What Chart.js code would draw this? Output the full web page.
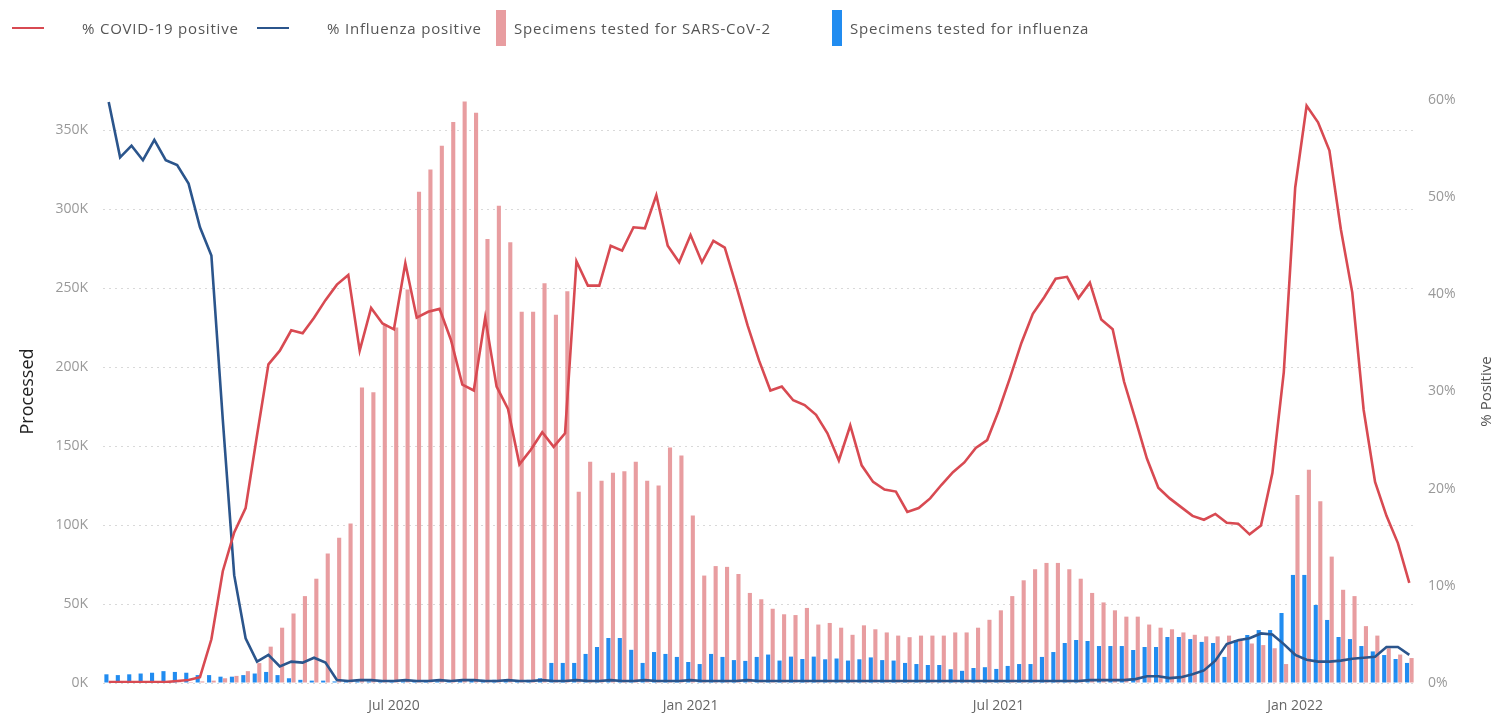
<!DOCTYPE html>
<html>
<head>
<meta charset="utf-8">
<script src="https://cdn.jsdelivr.net/npm/chart.js@4.4.1/dist/chart.umd.min.js"></script>
<style>
  body { margin:0; background:#fff; font-family:"Open Sans", "DejaVu Sans", sans-serif; }
  #wrap { position:relative; width:1500px; height:713px; }
  #legend { position:absolute; left:0; top:0; width:1500px; height:55px; }
  .lg-item { position:absolute; top:0; height:55px; display:flex; align-items:center; font-size:15px; letter-spacing:0.8px; color:#555; white-space:nowrap; }
  .lg-line { display:inline-block; width:32px; height:2px; margin-right:38px; }
  .lg-box { display:inline-block; width:10px; height:36px; margin-right:8px; }
  canvas { position:absolute; left:0; top:0; }
</style>
</head>
<body>
<div id="wrap">
  <canvas id="grafico" width="1500" height="713"></canvas>
  <div id="legend"></div>
</div>
<script>
// Dados (semanas a partir de jan/2020)
const covidPct = [
  0.1, 0.1, 0.1, 0.1, 0.1, 0.1, 0.2, 0.3, 0.6, 4.5,
  11.5, 15.5, 18.0, 25.5, 32.8, 34.2, 36.3, 36.0, 37.6, 39.4,
  41.0, 42.0, 34.2, 38.6, 37.0, 36.4, 43.2, 37.6, 38.2, 38.5,
  35.3, 30.7, 30.1, 37.6, 30.5, 28.2, 22.5, 24.0, 25.8, 24.3,
  25.7, 43.4, 40.9, 40.9, 45.0, 44.5, 46.9, 46.8, 50.2, 45.0,
  43.3, 46.1, 43.3, 45.5, 44.8, 40.9, 36.8, 33.2, 30.1, 30.5,
  29.1, 28.6, 27.6, 25.7, 22.9, 26.5, 22.4, 20.7, 19.9, 19.7,
  17.6, 18.0, 19.0, 20.4, 21.7, 22.7, 24.2, 25.0, 28.0, 31.4,
  35.0, 38.0, 39.7, 41.6, 41.8, 39.6, 41.2, 37.4, 36.4, 31.0,
  27.1, 23.1, 20.1, 19.0, 18.1, 17.2, 16.8, 17.4, 16.5, 16.4,
  15.3, 16.2, 21.6, 32.0, 51.0, 59.4, 57.7, 54.8, 46.7, 40.2,
  28.1, 20.7, 17.2, 14.4, 10.3
];
const fluPct = [
  59.8, 54.1, 55.3, 53.8, 55.9, 53.8, 53.3, 51.4, 46.9, 44.0,
  27.1, 11.1, 4.6, 2.2, 2.9, 1.7, 2.2, 2.1, 2.6, 2.1,
  0.3, 0.2, 0.3, 0.3, 0.2, 0.2, 0.3, 0.2, 0.2, 0.3,
  0.2, 0.3, 0.3, 0.2, 0.2, 0.3, 0.2, 0.2, 0.3, 0.2,
  0.2, 0.3, 0.2, 0.2, 0.3, 0.2, 0.2, 0.3, 0.2, 0.2,
  0.2, 0.3, 0.2, 0.2, 0.2, 0.2, 0.3, 0.2, 0.2, 0.2,
  0.2, 0.2, 0.2, 0.2, 0.2, 0.2, 0.2, 0.2, 0.2, 0.2,
  0.2, 0.2, 0.2, 0.2, 0.2, 0.2, 0.2, 0.2, 0.2, 0.2,
  0.2, 0.2, 0.2, 0.2, 0.2, 0.2, 0.3, 0.3, 0.3, 0.3,
  0.4, 0.7, 0.7, 0.5, 0.6, 0.9, 1.3, 2.3, 4.0, 4.4,
  4.6, 5.1, 5.0, 4.0, 2.9, 2.4, 2.2, 2.2, 2.3, 2.5,
  2.6, 2.7, 3.7, 3.7, 2.9
];
const sarsTested = [
  500, 500, 500, 500, 500, 500, 500, 600, 1000, 1500,
  3000, 4500, 7500, 12600, 23000, 35000, 44000, 55000, 66000, 82000,
  92000, 101000, 187000, 184000, 227000, 225000, 249000, 311000, 325000, 340000,
  355000, 368000, 361000, 281000, 302000, 279000, 235000, 235000, 253000, 233000,
  248000, 121000, 140000, 128000, 133000, 134000, 140000, 128000, 125000, 149000,
  144000, 106000, 68000, 74000, 73500, 69000, 57000, 53000, 47000, 43500,
  43000, 47500, 37000, 38000, 35000, 30500, 36500, 34000, 32000, 30000,
  29000, 30000, 30000, 30000, 32000, 32000, 35000, 40000, 46000, 55000,
  65000, 72000, 76000, 76000, 72000, 66000, 57000, 51000, 46000, 42000,
  42000, 37000, 35000, 34000, 32000, 30500, 29500, 29500, 30000, 28000,
  25000, 24000, 22000, 12000, 119000, 135000, 115000, 80000, 59000, 55000,
  36000, 30000, 22000, 18000, 15800
];
const fluTested = [
  5500, 5000, 5500, 6000, 6500, 7500, 7000, 6500, 5000, 5000,
  4000, 4000, 5000, 6000, 7000, 5000, 3000, 2000, 1500, 1500,
  1000, 1000, 1000, 1000, 1000, 1000, 1000, 1000, 1000, 1000,
  1000, 1500, 1500, 2000, 2000, 1500, 1500, 2000, 3000, 12700,
  12700, 12700, 18400, 22800, 28500, 28500, 21000, 12700, 19600, 18400,
  16500, 13300, 12000, 18400, 16500, 14500, 14000, 16500, 18000, 14200,
  16700, 15200, 16700, 15000, 15500, 14200, 15000, 16200, 14500, 14200,
  12700, 12000, 11400, 11400, 8700, 7700, 9500, 10000, 8900, 10800,
  12000, 12000, 16500, 19600, 25300, 27200, 26600, 23400, 23400, 23400,
  20900, 22800, 22800, 29100, 29100, 27800, 26000, 25300, 16500, 27200,
  30400, 33500, 33500, 44300, 68400, 68400, 49400, 39900, 29100, 27800,
  23400, 20000, 17700, 15200, 12700
];

const tickIdx = [25, 51, 78, 104];
const tickText = ['Jul 2020', 'Jan 2021', 'Jul 2021', 'Jan 2022'];
const ticksEsq = [0, 50000, 100000, 150000, 200000, 250000, 300000, 350000];
const ticksDir = [0, 10, 20, 30, 40, 50, 60];

// semanas (fim de semana, sábado)
const semanas = covidPct.map((_, i) => {
  const d = new Date(Date.UTC(2020, 0, 4 + 7 * i));
  return d.toISOString().slice(0, 10);
});

const corCovid = 'rgb(216,74,82)';
const corFlu = 'rgb(43,85,140)';
const corSars = 'rgba(231,152,155,0.95)';
const corFluBar = 'rgb(33,140,240)';

const fonte = '"Open Sans", "DejaVu Sans", sans-serif';

// titulo do eixo direito (lido de baixo para cima)
const tituloDireito = {
  id: 'tituloDireito',
  afterDraw(chart) {
    const {ctx, chartArea} = chart;
    ctx.save();
    ctx.translate(1487, (chartArea.top + chartArea.bottom) / 2);
    ctx.rotate(-Math.PI / 2);
    ctx.font = '15px ' + fonte;
    ctx.fillStyle = '#555';
    ctx.textAlign = 'center';
    ctx.textBaseline = 'middle';
    ctx.fillText('% Positive', 0, 0);
    ctx.restore();
  }
};

const ctx = document.getElementById('grafico').getContext('2d');
const grafico = new Chart(ctx, {
  type: 'bar',
  data: {
    labels: semanas,
    datasets: [
      { type:'line', label:'% COVID-19 positive', data:covidPct, yAxisID:'y1', borderColor:corCovid, backgroundColor:corCovid, borderWidth:2.6, pointRadius:0, tension:0, order:0 },
      { type:'line', label:'% Influenza positive', data:fluPct, yAxisID:'y1', borderColor:corFlu, backgroundColor:corFlu, borderWidth:2.6, pointRadius:0, tension:0, order:0 },
      { type:'bar', label:'Specimens tested for SARS-CoV-2', data:sarsTested, yAxisID:'y', backgroundColor:corSars, order:2, categoryPercentage:0.8, barPercentage:0.9 },
      { type:'bar', label:'Specimens tested for influenza', data:fluTested, yAxisID:'y', backgroundColor:corFluBar, order:1, categoryPercentage:0.8, barPercentage:0.9 }
    ]
  },
  options: {
    responsive:false,
    animation:false,
    devicePixelRatio:1,
    layout:{ padding:{ top:100, left:0, right:0, bottom:0 } },
    plugins:{ legend:{ display:false }, tooltip:{ enabled:false } },
    scales:{
      x:{
        offset:true,
        grid:{ display:false },
        border:{ display:false },
        ticks:{
          autoSkip:false, maxRotation:0, minRotation:0, padding:7,
          color:'#666', font:{ family:fonte, size:14 },
          callback:(v, i) => { const k = tickIdx.indexOf(i); return k >= 0 ? tickText[k] : ''; }
        },
        afterFit:(s) => { s.height = 30; }
      },
      y:{
        position:'left', min:0, max:369000,
        grid:{ color:'#d9d9d9', drawTicks:false },
        border:{ display:false, dash:[2,4] },
        afterBuildTicks:(s) => { s.ticks = ticksEsq.map(v => ({ value:v })); },
        ticks:{ padding:15, color:'#999', font:{ family:fonte, size:14 },
          callback:(v) => (v / 1000) + 'K' },
        title:{ display:true, text:'Processed', color:'#222', font:{ family:fonte, size:18 }, padding:{ top:17, bottom:0 } },
        afterFit:(s) => { s.width = 103; }
      },
      y1:{
        position:'right', min:0, max:60,
        grid:{ display:false, drawTicks:false },
        border:{ display:false },
        afterBuildTicks:(s) => { s.ticks = ticksDir.map(v => ({ value:v })); },
        ticks:{ padding:13, color:'#999', font:{ family:fonte, size:14 },
          callback:(v) => v + '%' },
        afterFit:(s) => { s.width = 85; }
      }
    }
  },
  plugins:[tituloDireito]
});

// Legenda
const legenda = document.getElementById('legend');
const itens = [
  { ds:0, left:12, tipo:'line' },
  { ds:1, left:257, tipo:'line' },
  { ds:2, left:496, tipo:'box' },
  { ds:3, left:832, tipo:'box' }
];
itens.forEach(it => {
  const ds = grafico.data.datasets[it.ds];
  const el = document.createElement('div');
  el.className = 'lg-item';
  el.style.left = it.left + 'px';
  const sw = document.createElement('span');
  sw.className = it.tipo === 'line' ? 'lg-line' : 'lg-box';
  sw.style.background = it.tipo === 'line' ? ds.borderColor : ds.backgroundColor;
  el.appendChild(sw);
  el.appendChild(document.createTextNode(ds.label));
  legenda.appendChild(el);
});
</script>
</body>
</html>
